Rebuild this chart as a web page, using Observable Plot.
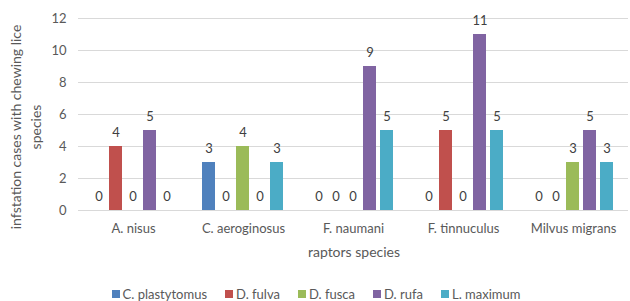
<!DOCTYPE html>
<html>
<head>
<meta charset="utf-8">
<script src="https://cdn.jsdelivr.net/npm/d3@7"></script>
<script src="https://cdn.jsdelivr.net/npm/@observablehq/plot@0.6"></script>
<style>
  body { margin: 0; background: #fff; font-family: Lato, "Open Sans", sans-serif; overflow: hidden; }
  #chart svg { display: block; }
  #legend { display: flex; justify-content: center; margin-top: 11px; height: 14px; line-height: 14px; font-size: 13px; color: #595959; padding-left: 2px; }
  #legend .item { display: flex; align-items: center; margin: 0 9px; }
  #legend .sw { width: 8px; height: 8px; margin-right: 3px; }
</style>
</head>
<body>
<div id="chart"></div>
<div id="legend"></div>
<script>
const categories = ["A. nisus", "C. aeroginosus", "F. naumani", "F. tinnuculus", "Milvus migrans"];
const seriesNames = ["C. plastytomus", "D. fulva", "D. fusca", "D. rufa", "L. maximum"];
const seriesColors = ["#4f81bd", "#c0504d", "#9bbb59", "#8064a2", "#4bacc6"];
const cPlastytomus = [0, 3, 0, 0, 0];
const dFulva = [4, 0, 0, 5, 0];
const dFusca = [0, 4, 0, 0, 3];
const dRufa = [5, 0, 9, 11, 5];
const lMaximum = [0, 3, 5, 5, 3];
const yTicks = [0, 2, 4, 6, 8, 10, 12];

const seriesValues = [cPlastytomus, dFulva, dFusca, dRufa, lMaximum];
const data = [];
categories.forEach((c, i) => {
  seriesNames.forEach((s, j) => {
    data.push({cat: c, series: s, value: seriesValues[j][i]});
  });
});

const plot = Plot.plot({
  width: 630,
  height: 276,
  marginLeft: 76,
  marginRight: 1,
  marginTop: 18,
  marginBottom: 66,
  style: {fontFamily: "Lato, 'Open Sans', sans-serif", fontSize: "13px", color: "#595959", background: "#fff"},
  fx: {domain: categories, padding: 0, label: null, tickSize: 0, tickPadding: 13},
  x: {domain: seriesNames, paddingInner: 0.224, paddingOuter: 0.79, axis: null},
  y: {domain: [0, 12], ticks: yTicks, tickSize: 0, tickPadding: 12, label: null},
  color: {domain: seriesNames, range: seriesColors},
  marks: [
    Plot.ruleY(yTicks, {stroke: "#d9d9d9", strokeWidth: 1}),
    Plot.barY(data, {fx: "cat", x: "series", y: "value", fill: "series"}),
    Plot.text(data, {fx: "cat", x: "series", y: "value", text: d => String(d.value), dy: -14, fill: "#404040", fontSize: 13})
  ]
});

document.getElementById("chart").appendChild(plot);

const svg = d3.select(plot);
svg.append("text")
  .attr("x", 354).attr("y", 253)
  .attr("text-anchor", "middle").attr("dominant-baseline", "middle")
  .attr("fill", "#595959").style("font-size", "14px")
  .text("raptors species");
const yl = svg.append("text")
  .attr("transform", "translate(16,127) rotate(-90)")
  .attr("text-anchor", "middle")
  .attr("fill", "#595959").style("font-size", "14px");
yl.append("tspan").attr("x", 0).attr("dy", "0.35em").text("infstation cases with chewing lice");
yl.append("tspan").attr("x", 0).attr("dy", "1.45em").text("species");

const legend = document.getElementById("legend");
seriesNames.forEach((s, j) => {
  const item = document.createElement("div");
  item.className = "item";
  const sw = document.createElement("div");
  sw.className = "sw";
  sw.style.background = seriesColors[j];
  const t = document.createElement("span");
  t.textContent = s;
  item.appendChild(sw);
  item.appendChild(t);
  legend.appendChild(item);
});
</script>
</body>
</html>
